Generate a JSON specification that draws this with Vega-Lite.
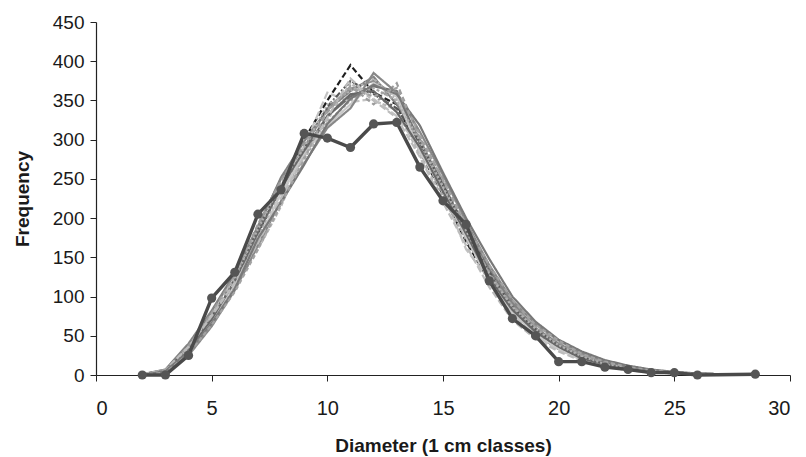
{
  "$schema": "https://vega.github.io/schema/vega-lite/v6.json",
  "autosize": {"type": "none"},
  "padding": {"left": 96, "top": 22, "right": 16, "bottom": 82},
  "width": 694,
  "height": 353,
  "background": "white",
  "config": {
    "view": {"stroke": null},
    "font": "Liberation Sans",
    "axis": {"grid": false, "domainColor": "#222", "tickColor": "#222", "labelColor": "#1a1a1a", "titleColor": "#1a1a1a", "labelFont": "Liberation Sans", "titleFont": "Liberation Sans", "titleFontSize": 19, "titleFontWeight": "bold", "tickSize": 6, "domainWidth": 1.2, "labelOverlap": false}
  },
  "datasets": {
    "sim": [
      {"d":2,"f":0,"s":"s1"},{"d":3,"f":4,"s":"s1"},{"d":4,"f":30,"s":"s1"},{"d":5,"f":70,"s":"s1"},{"d":6,"f":120,"s":"s1"},{"d":7,"f":180,"s":"s1"},{"d":8,"f":240,"s":"s1"},{"d":9,"f":300,"s":"s1"},{"d":10,"f":350,"s":"s1"},{"d":11,"f":395,"s":"s1"},{"d":12,"f":360,"s":"s1"},{"d":13,"f":345,"s":"s1"},{"d":14,"f":285,"s":"s1"},{"d":15,"f":230,"s":"s1"},{"d":16,"f":170,"s":"s1"},{"d":17,"f":120,"s":"s1"},{"d":18,"f":80,"s":"s1"},{"d":19,"f":52,"s":"s1"},{"d":20,"f":33,"s":"s1"},{"d":21,"f":20,"s":"s1"},{"d":22,"f":12,"s":"s1"},{"d":23,"f":7,"s":"s1"},{"d":24,"f":4,"s":"s1"},{"d":25,"f":2,"s":"s1"},{"d":26,"f":1,"s":"s1"},{"d":27,"f":0,"s":"s1"},
      {"d":2,"f":1,"s":"s2"},{"d":3,"f":6,"s":"s2"},{"d":4,"f":38,"s":"s2"},{"d":5,"f":80,"s":"s2"},{"d":6,"f":128,"s":"s2"},{"d":7,"f":190,"s":"s2"},{"d":8,"f":250,"s":"s2"},{"d":9,"f":290,"s":"s2"},{"d":10,"f":340,"s":"s2"},{"d":11,"f":365,"s":"s2"},{"d":12,"f":375,"s":"s2"},{"d":13,"f":355,"s":"s2"},{"d":14,"f":300,"s":"s2"},{"d":15,"f":240,"s":"s2"},{"d":16,"f":185,"s":"s2"},{"d":17,"f":130,"s":"s2"},{"d":18,"f":88,"s":"s2"},{"d":19,"f":58,"s":"s2"},{"d":20,"f":36,"s":"s2"},{"d":21,"f":24,"s":"s2"},{"d":22,"f":15,"s":"s2"},{"d":23,"f":9,"s":"s2"},{"d":24,"f":5,"s":"s2"},{"d":25,"f":3,"s":"s2"},{"d":26,"f":1,"s":"s2"},{"d":27,"f":1,"s":"s2"},
      {"d":2,"f":0,"s":"s3"},{"d":3,"f":3,"s":"s3"},{"d":4,"f":28,"s":"s3"},{"d":5,"f":65,"s":"s3"},{"d":6,"f":112,"s":"s3"},{"d":7,"f":160,"s":"s3"},{"d":8,"f":215,"s":"s3"},{"d":9,"f":285,"s":"s3"},{"d":10,"f":325,"s":"s3"},{"d":11,"f":372,"s":"s3"},{"d":12,"f":350,"s":"s3"},{"d":13,"f":338,"s":"s3"},{"d":14,"f":280,"s":"s3"},{"d":15,"f":225,"s":"s3"},{"d":16,"f":175,"s":"s3"},{"d":17,"f":118,"s":"s3"},{"d":18,"f":82,"s":"s3"},{"d":19,"f":54,"s":"s3"},{"d":20,"f":38,"s":"s3"},{"d":21,"f":21,"s":"s3"},{"d":22,"f":13,"s":"s3"},{"d":23,"f":8,"s":"s3"},{"d":24,"f":4,"s":"s3"},{"d":25,"f":2,"s":"s3"},{"d":26,"f":2,"s":"s3"},{"d":27,"f":0,"s":"s3"},
      {"d":2,"f":0,"s":"s4"},{"d":3,"f":5,"s":"s4"},{"d":4,"f":33,"s":"s4"},{"d":5,"f":72,"s":"s4"},{"d":6,"f":118,"s":"s4"},{"d":7,"f":183,"s":"s4"},{"d":8,"f":238,"s":"s4"},{"d":9,"f":280,"s":"s4"},{"d":10,"f":330,"s":"s4"},{"d":11,"f":355,"s":"s4"},{"d":12,"f":368,"s":"s4"},{"d":13,"f":362,"s":"s4"},{"d":14,"f":295,"s":"s4"},{"d":15,"f":245,"s":"s4"},{"d":16,"f":182,"s":"s4"},{"d":17,"f":128,"s":"s4"},{"d":18,"f":90,"s":"s4"},{"d":19,"f":57,"s":"s4"},{"d":20,"f":34,"s":"s4"},{"d":21,"f":22,"s":"s4"},{"d":22,"f":14,"s":"s4"},{"d":23,"f":9,"s":"s4"},{"d":24,"f":5,"s":"s4"},{"d":25,"f":3,"s":"s4"},{"d":26,"f":1,"s":"s4"},{"d":27,"f":1,"s":"s4"},
      {"d":2,"f":0,"s":"s5"},{"d":3,"f":4,"s":"s5"},{"d":4,"f":36,"s":"s5"},{"d":5,"f":78,"s":"s5"},{"d":6,"f":125,"s":"s5"},{"d":7,"f":176,"s":"s5"},{"d":8,"f":225,"s":"s5"},{"d":9,"f":292,"s":"s5"},{"d":10,"f":360,"s":"s5"},{"d":11,"f":348,"s":"s5"},{"d":12,"f":352,"s":"s5"},{"d":13,"f":330,"s":"s5"},{"d":14,"f":288,"s":"s5"},{"d":15,"f":232,"s":"s5"},{"d":16,"f":160,"s":"s5"},{"d":17,"f":122,"s":"s5"},{"d":18,"f":78,"s":"s5"},{"d":19,"f":50,"s":"s5"},{"d":20,"f":32,"s":"s5"},{"d":21,"f":20,"s":"s5"},{"d":22,"f":12,"s":"s5"},{"d":23,"f":8,"s":"s5"},{"d":24,"f":4,"s":"s5"},{"d":25,"f":2,"s":"s5"},{"d":26,"f":1,"s":"s5"},{"d":27,"f":0,"s":"s5"},
      {"d":2,"f":1,"s":"s6"},{"d":3,"f":7,"s":"s6"},{"d":4,"f":40,"s":"s6"},{"d":5,"f":82,"s":"s6"},{"d":6,"f":130,"s":"s6"},{"d":7,"f":188,"s":"s6"},{"d":8,"f":252,"s":"s6"},{"d":9,"f":298,"s":"s6"},{"d":10,"f":338,"s":"s6"},{"d":11,"f":362,"s":"s6"},{"d":12,"f":380,"s":"s6"},{"d":13,"f":345,"s":"s6"},{"d":14,"f":300,"s":"s6"},{"d":15,"f":238,"s":"s6"},{"d":16,"f":190,"s":"s6"},{"d":17,"f":135,"s":"s6"},{"d":18,"f":92,"s":"s6"},{"d":19,"f":60,"s":"s6"},{"d":20,"f":40,"s":"s6"},{"d":21,"f":25,"s":"s6"},{"d":22,"f":16,"s":"s6"},{"d":23,"f":10,"s":"s6"},{"d":24,"f":6,"s":"s6"},{"d":25,"f":3,"s":"s6"},{"d":26,"f":2,"s":"s6"},{"d":27,"f":1,"s":"s6"},
      {"d":2,"f":0,"s":"s7"},{"d":3,"f":3,"s":"s7"},{"d":4,"f":29,"s":"s7"},{"d":5,"f":68,"s":"s7"},{"d":6,"f":115,"s":"s7"},{"d":7,"f":178,"s":"s7"},{"d":8,"f":235,"s":"s7"},{"d":9,"f":276,"s":"s7"},{"d":10,"f":322,"s":"s7"},{"d":11,"f":350,"s":"s7"},{"d":12,"f":366,"s":"s7"},{"d":13,"f":350,"s":"s7"},{"d":14,"f":292,"s":"s7"},{"d":15,"f":228,"s":"s7"},{"d":16,"f":172,"s":"s7"},{"d":17,"f":126,"s":"s7"},{"d":18,"f":84,"s":"s7"},{"d":19,"f":56,"s":"s7"},{"d":20,"f":35,"s":"s7"},{"d":21,"f":23,"s":"s7"},{"d":22,"f":13,"s":"s7"},{"d":23,"f":7,"s":"s7"},{"d":24,"f":5,"s":"s7"},{"d":25,"f":2,"s":"s7"},{"d":26,"f":1,"s":"s7"},{"d":27,"f":0,"s":"s7"},
      {"d":2,"f":0,"s":"s8"},{"d":3,"f":5,"s":"s8"},{"d":4,"f":34,"s":"s8"},{"d":5,"f":74,"s":"s8"},{"d":6,"f":122,"s":"s8"},{"d":7,"f":185,"s":"s8"},{"d":8,"f":242,"s":"s8"},{"d":9,"f":288,"s":"s8"},{"d":10,"f":342,"s":"s8"},{"d":11,"f":375,"s":"s8"},{"d":12,"f":358,"s":"s8"},{"d":13,"f":340,"s":"s8"},{"d":14,"f":296,"s":"s8"},{"d":15,"f":242,"s":"s8"},{"d":16,"f":186,"s":"s8"},{"d":17,"f":132,"s":"s8"},{"d":18,"f":86,"s":"s8"},{"d":19,"f":58,"s":"s8"},{"d":20,"f":37,"s":"s8"},{"d":21,"f":22,"s":"s8"},{"d":22,"f":15,"s":"s8"},{"d":23,"f":9,"s":"s8"},{"d":24,"f":5,"s":"s8"},{"d":25,"f":3,"s":"s8"},{"d":26,"f":1,"s":"s8"},{"d":27,"f":1,"s":"s8"},
      {"d":2,"f":0,"s":"s9"},{"d":3,"f":4,"s":"s9"},{"d":4,"f":31,"s":"s9"},{"d":5,"f":70,"s":"s9"},{"d":6,"f":117,"s":"s9"},{"d":7,"f":170,"s":"s9"},{"d":8,"f":232,"s":"s9"},{"d":9,"f":282,"s":"s9"},{"d":10,"f":318,"s":"s9"},{"d":11,"f":345,"s":"s9"},{"d":12,"f":372,"s":"s9"},{"d":13,"f":355,"s":"s9"},{"d":14,"f":284,"s":"s9"},{"d":15,"f":236,"s":"s9"},{"d":16,"f":176,"s":"s9"},{"d":17,"f":120,"s":"s9"},{"d":18,"f":80,"s":"s9"},{"d":19,"f":52,"s":"s9"},{"d":20,"f":33,"s":"s9"},{"d":21,"f":19,"s":"s9"},{"d":22,"f":12,"s":"s9"},{"d":23,"f":7,"s":"s9"},{"d":24,"f":4,"s":"s9"},{"d":25,"f":2,"s":"s9"},{"d":26,"f":1,"s":"s9"},{"d":27,"f":0,"s":"s9"},
      {"d":2,"f":0,"s":"s10"},{"d":3,"f":6,"s":"s10"},{"d":4,"f":37,"s":"s10"},{"d":5,"f":79,"s":"s10"},{"d":6,"f":127,"s":"s10"},{"d":7,"f":192,"s":"s10"},{"d":8,"f":248,"s":"s10"},{"d":9,"f":295,"s":"s10"},{"d":10,"f":335,"s":"s10"},{"d":11,"f":368,"s":"s10"},{"d":12,"f":345,"s":"s10"},{"d":13,"f":372,"s":"s10"},{"d":14,"f":302,"s":"s10"},{"d":15,"f":250,"s":"s10"},{"d":16,"f":188,"s":"s10"},{"d":17,"f":130,"s":"s10"},{"d":18,"f":88,"s":"s10"},{"d":19,"f":62,"s":"s10"},{"d":20,"f":42,"s":"s10"},{"d":21,"f":26,"s":"s10"},{"d":22,"f":16,"s":"s10"},{"d":23,"f":10,"s":"s10"},{"d":24,"f":6,"s":"s10"},{"d":25,"f":3,"s":"s10"},{"d":26,"f":2,"s":"s10"},{"d":27,"f":1,"s":"s10"},
      {"d":2,"f":0,"s":"s11"},{"d":3,"f":4,"s":"s11"},{"d":4,"f":32,"s":"s11"},{"d":5,"f":71,"s":"s11"},{"d":6,"f":120,"s":"s11"},{"d":7,"f":182,"s":"s11"},{"d":8,"f":240,"s":"s11"},{"d":9,"f":286,"s":"s11"},{"d":10,"f":330,"s":"s11"},{"d":11,"f":358,"s":"s11"},{"d":12,"f":362,"s":"s11"},{"d":13,"f":335,"s":"s11"},{"d":14,"f":290,"s":"s11"},{"d":15,"f":234,"s":"s11"},{"d":16,"f":180,"s":"s11"},{"d":17,"f":124,"s":"s11"},{"d":18,"f":83,"s":"s11"},{"d":19,"f":55,"s":"s11"},{"d":20,"f":36,"s":"s11"},{"d":21,"f":21,"s":"s11"},{"d":22,"f":13,"s":"s11"},{"d":23,"f":8,"s":"s11"},{"d":24,"f":4,"s":"s11"},{"d":25,"f":2,"s":"s11"},{"d":26,"f":1,"s":"s11"},{"d":27,"f":0,"s":"s11"},
      {"d":2,"f":0,"s":"s12"},{"d":3,"f":5,"s":"s12"},{"d":4,"f":35,"s":"s12"},{"d":5,"f":76,"s":"s12"},{"d":6,"f":124,"s":"s12"},{"d":7,"f":186,"s":"s12"},{"d":8,"f":244,"s":"s12"},{"d":9,"f":290,"s":"s12"},{"d":10,"f":345,"s":"s12"},{"d":11,"f":362,"s":"s12"},{"d":12,"f":378,"s":"s12"},{"d":13,"f":350,"s":"s12"},{"d":14,"f":298,"s":"s12"},{"d":15,"f":240,"s":"s12"},{"d":16,"f":184,"s":"s12"},{"d":17,"f":128,"s":"s12"},{"d":18,"f":87,"s":"s12"},{"d":19,"f":59,"s":"s12"},{"d":20,"f":38,"s":"s12"},{"d":21,"f":24,"s":"s12"},{"d":22,"f":14,"s":"s12"},{"d":23,"f":9,"s":"s12"},{"d":24,"f":5,"s":"s12"},{"d":25,"f":3,"s":"s12"},{"d":26,"f":1,"s":"s12"},{"d":27,"f":1,"s":"s12"},
      {"d":2,"f":0,"s":"s13"},{"d":3,"f":2,"s":"s13"},{"d":4,"f":25,"s":"s13"},{"d":5,"f":62,"s":"s13"},{"d":6,"f":108,"s":"s13"},{"d":7,"f":165,"s":"s13"},{"d":8,"f":222,"s":"s13"},{"d":9,"f":270,"s":"s13"},{"d":10,"f":315,"s":"s13"},{"d":11,"f":340,"s":"s13"},{"d":12,"f":385,"s":"s13"},{"d":13,"f":360,"s":"s13"},{"d":14,"f":310,"s":"s13"},{"d":15,"f":255,"s":"s13"},{"d":16,"f":195,"s":"s13"},{"d":17,"f":140,"s":"s13"},{"d":18,"f":95,"s":"s13"},{"d":19,"f":65,"s":"s13"},{"d":20,"f":44,"s":"s13"},{"d":21,"f":28,"s":"s13"},{"d":22,"f":18,"s":"s13"},{"d":23,"f":11,"s":"s13"},{"d":24,"f":6,"s":"s13"},{"d":25,"f":3,"s":"s13"},{"d":26,"f":2,"s":"s13"},{"d":27,"f":1,"s":"s13"},
      {"d":2,"f":1,"s":"s14"},{"d":3,"f":6,"s":"s14"},{"d":4,"f":36,"s":"s14"},{"d":5,"f":75,"s":"s14"},{"d":6,"f":118,"s":"s14"},{"d":7,"f":168,"s":"s14"},{"d":8,"f":225,"s":"s14"},{"d":9,"f":278,"s":"s14"},{"d":10,"f":328,"s":"s14"},{"d":11,"f":378,"s":"s14"},{"d":12,"f":350,"s":"s14"},{"d":13,"f":328,"s":"s14"},{"d":14,"f":278,"s":"s14"},{"d":15,"f":220,"s":"s14"},{"d":16,"f":165,"s":"s14"},{"d":17,"f":112,"s":"s14"},{"d":18,"f":70,"s":"s14"},{"d":19,"f":46,"s":"s14"},{"d":20,"f":30,"s":"s14"},{"d":21,"f":18,"s":"s14"},{"d":22,"f":11,"s":"s14"},{"d":23,"f":6,"s":"s14"},{"d":24,"f":3,"s":"s14"},{"d":25,"f":2,"s":"s14"},{"d":26,"f":1,"s":"s14"},{"d":27,"f":0,"s":"s14"},
      {"d":2,"f":0,"s":"s15"},{"d":3,"f":5,"s":"s15"},{"d":4,"f":30,"s":"s15"},{"d":5,"f":66,"s":"s15"},{"d":6,"f":110,"s":"s15"},{"d":7,"f":174,"s":"s15"},{"d":8,"f":220,"s":"s15"},{"d":9,"f":268,"s":"s15"},{"d":10,"f":320,"s":"s15"},{"d":11,"f":352,"s":"s15"},{"d":12,"f":370,"s":"s15"},{"d":13,"f":358,"s":"s15"},{"d":14,"f":318,"s":"s15"},{"d":15,"f":258,"s":"s15"},{"d":16,"f":200,"s":"s15"},{"d":17,"f":148,"s":"s15"},{"d":18,"f":100,"s":"s15"},{"d":19,"f":68,"s":"s15"},{"d":20,"f":45,"s":"s15"},{"d":21,"f":30,"s":"s15"},{"d":22,"f":19,"s":"s15"},{"d":23,"f":12,"s":"s15"},{"d":24,"f":7,"s":"s15"},{"d":25,"f":4,"s":"s15"},{"d":26,"f":2,"s":"s15"},{"d":27,"f":1,"s":"s15"},
      {"d":2,"f":0,"s":"s16"},{"d":3,"f":3,"s":"s16"},{"d":4,"f":27,"s":"s16"},{"d":5,"f":64,"s":"s16"},{"d":6,"f":106,"s":"s16"},{"d":7,"f":160,"s":"s16"},{"d":8,"f":218,"s":"s16"},{"d":9,"f":275,"s":"s16"},{"d":10,"f":338,"s":"s16"},{"d":11,"f":366,"s":"s16"},{"d":12,"f":355,"s":"s16"},{"d":13,"f":366,"s":"s16"},{"d":14,"f":306,"s":"s16"},{"d":15,"f":248,"s":"s16"},{"d":16,"f":192,"s":"s16"},{"d":17,"f":140,"s":"s16"},{"d":18,"f":96,"s":"s16"},{"d":19,"f":64,"s":"s16"},{"d":20,"f":44,"s":"s16"},{"d":21,"f":27,"s":"s16"},{"d":22,"f":17,"s":"s16"},{"d":23,"f":10,"s":"s16"},{"d":24,"f":6,"s":"s16"},{"d":25,"f":3,"s":"s16"},{"d":26,"f":2,"s":"s16"},{"d":27,"f":1,"s":"s16"}
    ],
    "obs": [
      {"d":2,"f":0},{"d":3,"f":0},{"d":4,"f":25},{"d":5,"f":98},{"d":6,"f":131},{"d":7,"f":205},{"d":8,"f":236},{"d":9,"f":308},{"d":10,"f":302},{"d":11,"f":290},{"d":12,"f":320},{"d":13,"f":322},{"d":14,"f":265},{"d":15,"f":222},{"d":16,"f":192},{"d":17,"f":120},{"d":18,"f":72},{"d":19,"f":50},{"d":20,"f":17},{"d":21,"f":17},{"d":22,"f":10},{"d":23,"f":7},{"d":24,"f":3},{"d":25,"f":3},{"d":26,"f":0},{"d":28.5,"f":1}
    ]
  },
  "encoding": {
    "x": {"field": "d", "type": "quantitative", "scale": {"domain": [0, 30], "nice": false}, "axis": {"values": [0,5,10,15,20,25,30], "title": "Diameter (1 cm classes)", "titlePadding": 18, "labelPadding": 17, "labelFontSize": 20, "labelOverlap": false}},
    "y": {"field": "f", "type": "quantitative", "scale": {"domain": [0, 450], "nice": false}, "axis": {"values": [0,50,100,150,200,250,300,350,400,450], "title": "Frequency", "titlePadding": 20, "labelPadding": 6, "labelFontSize": 19, "labelOverlap": false}}
  },
  "layer": [
    {
      "data": {"name": "sim"},
      "mark": {"type": "line", "strokeWidth": 2.2},
      "encoding": {
        "color": {"field": "s", "type": "nominal", "legend": null, "scale": {"domain": ["s1","s2","s3","s4","s5","s6","s7","s8","s9","s10","s11","s12","s13","s14","s15","s16"], "range": ["#1e1e1e","#8f8f8f","#b5b5b5","#707070","#c2c2c2","#828282","#a8a8a8","#585858","#c8c8c8","#9c9c9c","#686868","#b2b2b2","#888888","#bcbcbc","#787878","#a2a2a2"]}},
        "strokeDash": {"field": "s", "type": "nominal", "legend": null, "scale": {"domain": ["s1","s2","s3","s4","s5","s6","s7","s8","s9","s10","s11","s12","s13","s14","s15","s16"], "range": [[6,3],[1,0],[4,2],[1,0],[8,3],[1,0],[3,2],[6,2,2,2],[1,0],[5,3],[1,0],[2,2],[1,0],[7,3],[1,0],[4,3]]}}
      }
    },
    {
      "data": {"name": "obs"},
      "mark": {"type": "line", "color": "#4a4a4a", "strokeWidth": 3.4, "point": {"filled": true, "size": 85, "color": "#555555"}},
      "encoding": {}
    }
  ]
}
